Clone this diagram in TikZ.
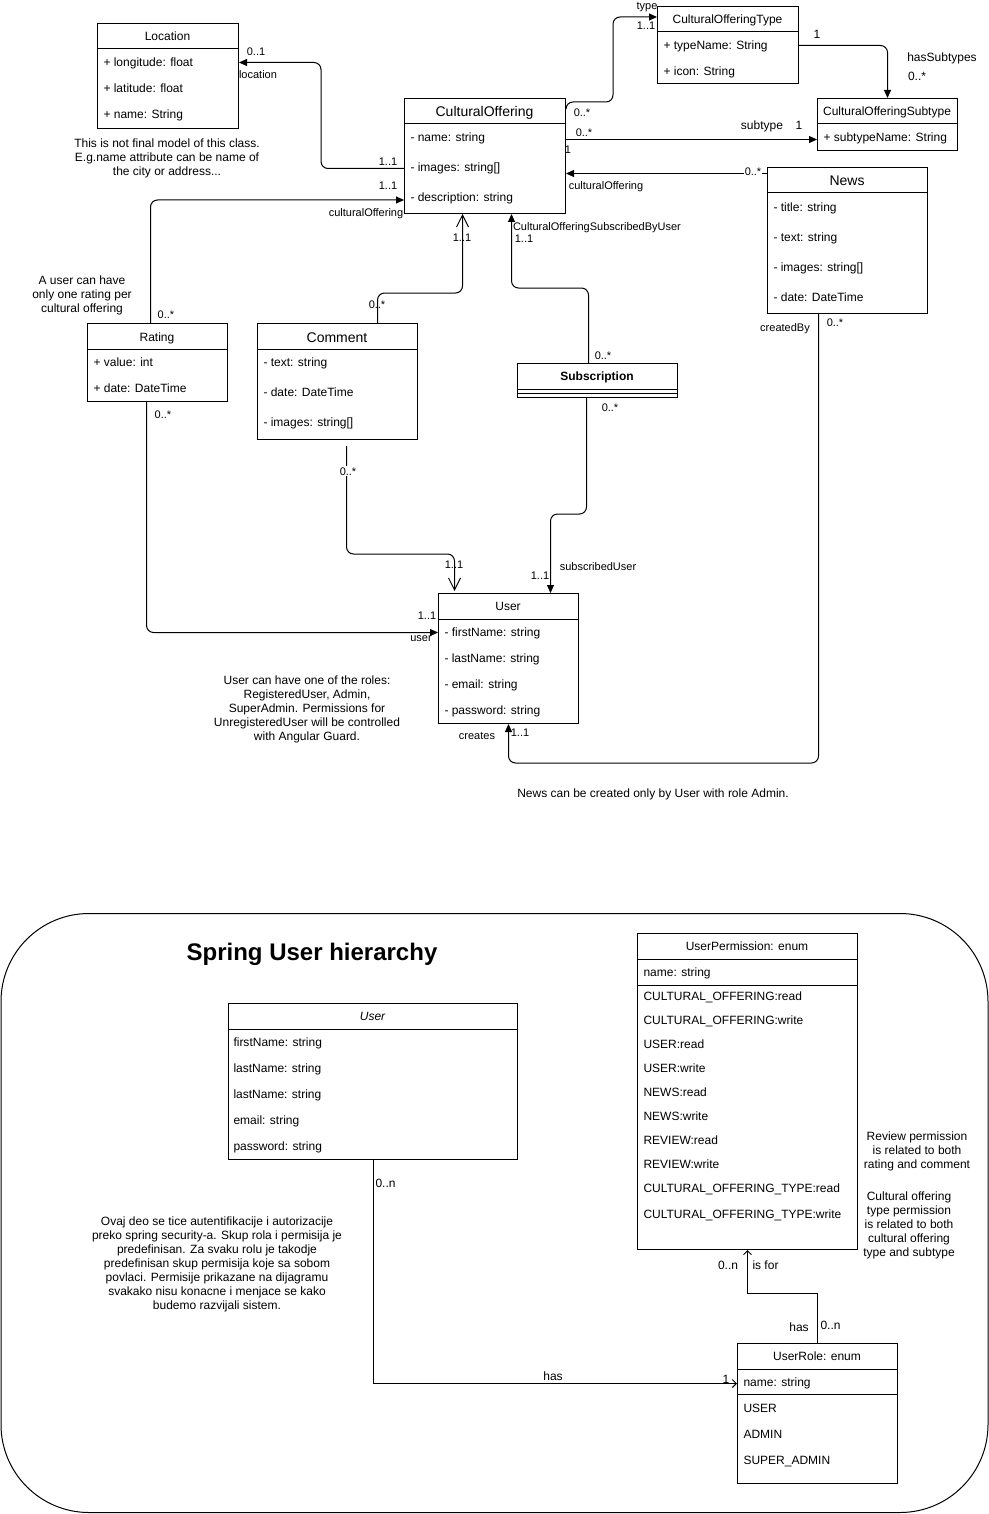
\documentclass[tikz,border=0pt]{standalone}
\usepackage{fontspec}
\setmainfont{Liberation Sans}
\usetikzlibrary{arrows.meta, calc, positioning}
\tikzstyle{classbox} = [rectangle, draw=black, anchor=north west, inner sep=0pt]
\tikzstyle{ctitle} = [inner sep=0pt, text height=9.5pt, text depth=1pt, font=\fontsize{12}{14}\selectfont]
\tikzstyle{btitle} = [inner sep=0pt, text height=11pt, text depth=1pt, font=\fontsize{14}{16}\selectfont]
\tikzstyle{attr} = [ctitle, anchor=west]
\tikzstyle{mult} = [inner sep=0.5pt, text height=8.5pt, text depth=0.5pt, font=\fontsize{11}{13}\selectfont]
\tikzstyle{multw} = [mult, fill=white]
\tikzstyle{note} = [align=center, inner sep=0pt, font=\fontsize{12}{14}\selectfont]
\tikzstyle{arrow} = [rounded corners=7pt, -{Triangle[length=8pt,width=7pt]}]
\tikzstyle{openarrow} = [rounded corners=7pt, -{Straight Barb[length=12pt,width=12pt]}]
\tikzstyle{thinarrow} = [-{Straight Barb[length=4pt,width=8pt]}]

\begin{document}
\begin{tikzpicture}[x=1pt, y=-1pt, line width=1pt]
\useasboundingbox (0,0) rectangle (988,1514);

% Classes
\node (loc) [classbox, minimum width=141pt, minimum height=105pt] at (97,23) {};
\node (locT) [ctitle] at (167.5,36) {Location};
\draw ($(loc.north west)+(0,26)$) -- ($(loc.north east)+(0,26)$);
\node (loc1) [attr] at (103,62) {+ longitude: float};
\node (loc2) [attr] at (103,88) {+ latitude: float};
\node (loc3) [attr] at (103,114) {+ name: String};

\node (co) [classbox, minimum width=161pt, minimum height=115pt] at (404,98) {};
\node (coT) [btitle] at (484.5,112) {CulturalOffering};
\draw ($(co.north west)+(0,26)$) -- ($(co.north east)+(0,26)$);
\node (co1) [attr] at (410,137) {- name: string};
\node (co2) [attr] at (410,167) {- images: string[]};
\node (co3) [attr] at (410,197) {- description: string};

\node (cotype) [classbox, minimum width=141pt, minimum height=77pt] at (657,6) {};
\node (cotypeT) [ctitle] at (727.5,19) {CulturalOfferingType};
\draw ($(cotype.north west)+(0,26)$) -- ($(cotype.north east)+(0,26)$);
\node (cotype1) [attr] at (663,45) {+ typeName: String};
\node (cotype2) [attr] at (663,71) {+ icon: String};

\node (cosub) [classbox, minimum width=140pt, minimum height=52pt] at (817,98) {};
\node (cosubT) [ctitle] at (887,111) {CulturalOfferingSubtype};
\draw ($(cosub.north west)+(0,26)$) -- ($(cosub.north east)+(0,26)$);
\node (cosub1) [attr] at (823,137) {+ subtypeName: String};

\node (news) [classbox, minimum width=160pt, minimum height=146pt] at (767,167) {};
\node (newsT) [btitle] at (847,181) {News};
\draw ($(news.north west)+(0,26)$) -- ($(news.north east)+(0,26)$);
\node (news1) [attr] at (773,207) {- title: string};
\node (news2) [attr] at (773,237) {- text: string};
\node (news3) [attr] at (773,267) {- images: string[]};
\node (news4) [attr] at (773,297) {- date: DateTime};

\node (rating) [classbox, minimum width=140pt, minimum height=78pt] at (87,323) {};
\node (ratingT) [ctitle] at (157,337) {Rating};
\draw ($(rating.north west)+(0,26)$) -- ($(rating.north east)+(0,26)$);
\node (rating1) [attr] at (93,362) {+ value: int};
\node (rating2) [attr] at (93,388) {+ date: DateTime};

\node (comment) [classbox, minimum width=160pt, minimum height=116pt] at (257,323) {};
\node (commentT) [btitle] at (337,337) {Comment};
\draw ($(comment.north west)+(0,26)$) -- ($(comment.north east)+(0,26)$);
\node (comment1) [attr] at (263,362) {- text: string};
\node (comment2) [attr] at (263,392) {- date: DateTime};
\node (comment3) [attr] at (263,422) {- images: string[]};

\node (subscr) [classbox, minimum width=160pt, minimum height=34pt] at (517,363) {};
\node (subscrT) [ctitle, font=\fontsize{12}{14}\selectfont\bfseries] at (597,376) {Subscription};
\draw ($(subscr.north west)+(0,26)$) -- ($(subscr.north east)+(0,26)$);
\draw ($(subscr.north west)+(0,30)$) -- ($(subscr.north east)+(0,30)$);

\node (user) [classbox, minimum width=140pt, minimum height=130pt] at (438,593) {};
\node (userT) [ctitle] at (508,606) {User};
\draw ($(user.north west)+(0,26)$) -- ($(user.north east)+(0,26)$);
\node (user1) [attr] at (444,632) {- firstName: string};
\node (user2) [attr] at (444,658) {- lastName: string};
\node (user3) [attr] at (444,684) {- email: string};
\node (user4) [attr] at (444,710) {- password: string};

% Arrows
\draw [arrow] ($(co.west)+(0,12.5)$) -- ++(-83,0) |- ($(loc.east)+(0,-13.5)$);
\draw [arrow] ($(rating.north)+(-7,0)$) |- ($(co.west)+(0,44)$);
\draw [openarrow] ($(comment.north)+(40,0)$) -- ++(0,-30) -| ($(co.south)+(-22.5,0)$);
\draw [arrow] ($(subscr.north)+(-9,0)$) -- ++(0,-75) -| ($(co.south)+(26.5,0)$);
\draw [arrow] ($(co.north east)+(0,11)$) -- ++(0,-7) -- ++(47,0) |- ($(cotype.west)+(0,-28)$);
\draw [arrow] ($(co.east)+(0,-16.5)$) -- ($(cosub.west)+(0,15)$);
\draw [arrow] ($(cotype.east)+(0,0.5)$) -| (cosub.north);
\draw [arrow] ($(news.west)+(0,-67)$) -- ($(co.east)+(0,17.5)$);
\draw [arrow] ($(rating.south)+(-11,0)$) |- ($(user.west)+(0,-26)$);
\draw [openarrow] ($(comment.south)+(9,6)$) -- ++(0,108) -| ($(user.north)+(-54,-2)$);
\draw [arrow] ($(subscr.south)+(-11,0)$) -- ++(0,116) -| ($(user.north)+(42,0)$);
\draw [arrow] ($(news.south)+(-29,0)$) -- ++(0,449) -| (user.south);

% Labels
\node (m1) [mult] at (256,52) {0..1};
\node (m2) [mult] at (258,75) {location};
\node (m3) [mult] at (388,162) {1..1};
\node (m4) [mult] at (388,186) {1..1};
\node (m5) [mult] at (366,213) {culturalOffering};
\node (m6) [mult] at (647,6) {type};
\node (m7) [mult] at (646,26) {1..1};
\node (m8) [mult] at (582,113) {0..*};
\node (m9) [mult] at (584,133) {0..*};
\node (m10) [mult] at (568,150) {1};
\node (m11) [ctitle] at (762,125) {subtype};
\node (m12) [ctitle] at (799,125) {1};
\node (m13) [ctitle] at (817,34) {1};
\node (m14) [ctitle] at (942,57) {hasSubtypes};
\node (m15) [ctitle] at (917,76) {0..*};
\node (m16) [multw] at (753,172) {0..*};
\node (m17) [mult] at (606,186) {culturalOffering};
\node (m18) [mult] at (166,314) {0..*};
\node (m19) [mult] at (377,304) {0..*};
\node (m20) [mult] at (462,238) {1..1};
\node (m21) [mult, anchor=west] at (512,227) {CulturalOfferingSubscribedByUser};
\node (m22) [mult] at (524,239) {1..1};
\node (m23) [mult] at (603,355) {0..*};
\node (m24) [mult] at (163,414) {0..*};
\node (m25) [mult] at (610,407) {0..*};
\node (m26) [mult] at (785,327) {createdBy};
\node (m27) [mult] at (835,322) {0..*};
\node (m28) [multw] at (348,471) {0..*};
\node (m29) [mult] at (454,564) {1..1};
\node (m30) [mult] at (540,575) {1..1};
\node (m31) [mult] at (598,566) {subscribedUser};
\node (m32) [mult] at (427,615) {1..1};
\node (m33) [mult] at (421,637) {user};
\node (m34) [mult] at (477,735) {creates};
\node (m35) [mult] at (520,732) {1..1};

% Notes
\node (n1) [note] at (167,158) {This is not final model of this class.\\E.g.name attribute can be name of\\the city or address...};
\node (n2) [note] at (82,295) {A user can have\\only one rating per\\cultural offering};
\node (n3) [note] at (307,709) {User can have one of the roles:\\RegisteredUser, Admin,\\SuperAdmin. Permissions for\\UnregisteredUser will be controlled\\with Angular Guard.};
\node (n4) [note] at (653,794) {News can be created only by User with role Admin.};

% Spring User hierarchy
\node (frame) [classbox, rounded corners=88pt, minimum width=987pt, minimum height=599pt] at (0.5,913) {};
\node (title) [inner sep=0pt, font=\fontsize{24}{28}\selectfont\bfseries] at (312,954) {Spring User hierarchy};

\node (spuser) [classbox, minimum width=289pt, minimum height=156pt] at (228,1003) {};
\node (spuserT) [ctitle, font=\fontsize{12}{14}\selectfont\itshape] at (372.5,1016) {User};
\draw ($(spuser.north west)+(0,26)$) -- ($(spuser.north east)+(0,26)$);
\node (spuser1) [attr] at (233,1042) {firstName: string};
\node (spuser2) [attr] at (233,1068) {lastName: string};
\node (spuser3) [attr] at (233,1094) {lastName: string};
\node (spuser4) [attr] at (233,1120) {email: string};
\node (spuser5) [attr] at (233,1146) {password: string};

\node (perm) [classbox, minimum width=220pt, minimum height=316pt] at (637,933) {};
\node (permT) [ctitle] at (747,946) {UserPermission: enum};
\draw ($(perm.north west)+(0,26)$) -- ($(perm.north east)+(0,26)$);
\node (perm0) [attr] at (643,972) {name: string};
\draw ($(perm.north west)+(0,52)$) -- ($(perm.north east)+(0,52)$);
\node (perm1) [attr] at (643,996) {CULTURAL\_OFFERING:read};
\node (perm2) [attr] at (643,1020) {CULTURAL\_OFFERING:write};
\node (perm3) [attr] at (643,1044) {USER:read};
\node (perm4) [attr] at (643,1068) {USER:write};
\node (perm5) [attr] at (643,1092) {NEWS:read};
\node (perm6) [attr] at (643,1116) {NEWS:write};
\node (perm7) [attr] at (643,1140) {REVIEW:read};
\node (perm8) [attr] at (643,1164) {REVIEW:write};
\node (perm9) [attr] at (643,1188) {CULTURAL\_OFFERING\_TYPE:read};
\node (perm10) [attr] at (643,1214) {CULTURAL\_OFFERING\_TYPE:write};

\node (role) [classbox, minimum width=160pt, minimum height=140pt] at (737,1343) {};
\node (roleT) [ctitle] at (817,1356) {UserRole: enum};
\draw ($(role.north west)+(0,26)$) -- ($(role.north east)+(0,26)$);
\node (role0) [attr] at (743,1382) {name: string};
\draw ($(role.north west)+(0,51)$) -- ($(role.north east)+(0,51)$);
\node (role1) [attr] at (743,1408) {USER};
\node (role2) [attr] at (743,1434) {ADMIN};
\node (role3) [attr] at (743,1460) {SUPER\_ADMIN};

\draw [thinarrow] ($(spuser.south)+(0.5,0)$) |- ($(role.west)+(0,-30)$);
\draw [thinarrow] (role.north) -- ++(0,-50) -| (perm.south);

\node (b1) [ctitle, anchor=west] at (375,1183) {0..n};
\node (b2) [ctitle] at (553,1376) {has};
\node (b3) [ctitle] at (726,1379) {1};
\node (b4) [ctitle] at (728,1265) {0..n};
\node (b5) [ctitle, anchor=west] at (752,1265) {is for};
\node (b6) [ctitle] at (799,1327) {has};
\node (b7) [ctitle, anchor=west] at (820,1325) {0..n};

\node (n5) [note] at (917,1151) {Review permission\\is related to both\\rating and comment};
\node (n6) [note] at (909,1225) {Cultural offering\\type permission\\is related to both\\cultural offering\\type and subtype};
\node (n7) [note] at (217,1264) {Ovaj deo se tice autentifikacije i autorizacije\\preko spring security-a. Skup rola i permisija je\\predefinisan. Za svaku rolu je takodje\\predefinisan skup permisija koje sa sobom\\povlaci. Permisije prikazane na dijagramu\\svakako nisu konacne i menjace se kako\\budemo razvijali sistem.};
\end{tikzpicture}
\end{document}
